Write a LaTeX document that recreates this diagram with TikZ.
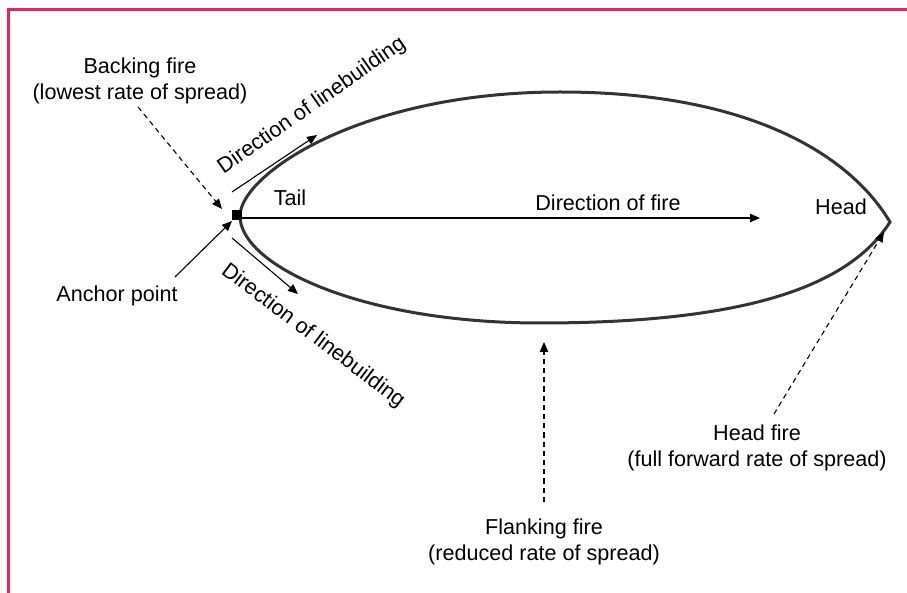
\documentclass[tikz,border=0pt]{standalone}
\usepackage{fontspec}
\setmainfont{Liberation Sans}
\usetikzlibrary{arrows.meta}
\definecolor{framered}{RGB}{232,36,92}
\tikzset{
 lbl/.style={align=center,inner sep=0pt,font=\fontsize{10.8}{13}\selectfont},
 arr/.style={line width=0.55pt,-{Triangle[length=5pt,width=4.2pt]}},
 darr/.style={arr,dash pattern=on 2.6pt off 2pt},
 fireline/.style={line width=1.5pt,black!80}
}
\begin{document}
\begin{tikzpicture}[x=0.5pt,y=-0.5pt]
\useasboundingbox (0,0) rectangle (907,593);
\draw[framered,line width=1.5pt] (8,593) -- (8,10) -- (907,10);
% fire outline
\coordinate (tail) at (240,216);
\coordinate (tip) at (890,222);
\coordinate (top) at (560,92);
\coordinate (bottom) at (540,323);
\draw[fireline] (tail) .. controls (240,175) and (360,92) .. (top)
 .. controls (750,92) and (850,155) .. (tip)
 .. controls (850,285) and (750,323) .. (bottom)
 .. controls (360,323) and (240,265) .. (tail) -- cycle;
\node[fill=black,minimum size=5pt,inner sep=0pt] (anchor) at (237,215) {};
% labels
\node[lbl] (backing) at (140,81) {Backing fire\\(lowest rate of spread)};
\node[lbl] (anchorlbl) at (117,296) {Anchor point};
\node[lbl] (taillbl) at (290,198) {Tail};
\node[lbl] (headlbl) at (841,207) {Head};
\node[lbl] (dirfire) at (608,203) {Direction of fire};
\node[lbl,rotate=35] (lineup) at (312,106) {Direction of linebuilding};
\node[lbl,rotate=-37] (linedown) at (313,336) {Direction of linebuilding};
\node[lbl] (flanking) at (544,542) {Flanking fire\\(reduced rate of spread)};
\node[lbl] (headfire) at (757,448) {Head fire\\(full forward rate of spread)};
% arrows
\coordinate (b0) at (138,107);
\coordinate (b1) at (222,209);
\coordinate (a0) at (175,277);
\coordinate (a1) at (232,221);
\coordinate (u0) at (232,192);
\coordinate (u1) at (317,135);
\coordinate (d0) at (232,238);
\coordinate (d1) at (298,294);
\coordinate (f0) at (240,218);
\coordinate (f1) at (760,218);
\coordinate (fl0) at (544,502);
\coordinate (fl1) at (544,342);
\coordinate (h0) at (774,414);
\coordinate (h1) at (884,232);
\draw[darr] (b0) -- (b1);
\draw[arr] (a0) -- (a1);
\draw[arr] (u0) -- (u1);
\draw[arr] (d0) -- (d1);
\draw[arr] (f0) -- (f1);
\draw[darr] (fl0) -- (fl1);
\draw[darr] (h0) -- (h1);
\end{tikzpicture}
\end{document}
